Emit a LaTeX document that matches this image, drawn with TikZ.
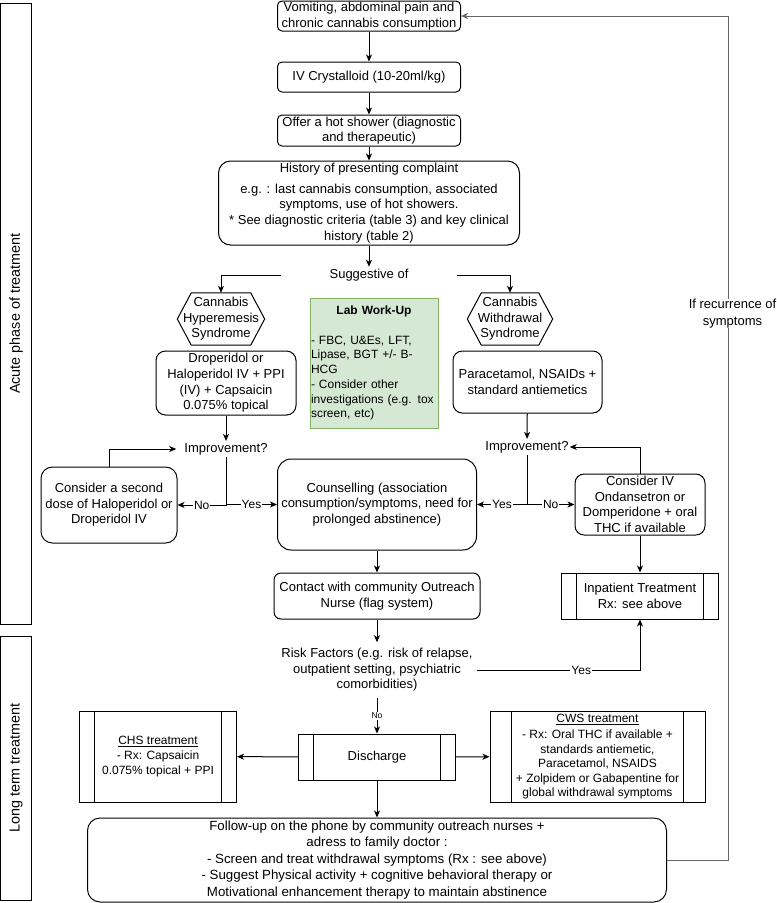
\documentclass[tikz,border=0pt]{standalone}
\usepackage{fontspec}
\setmainfont{Liberation Sans}
\usetikzlibrary{calc,arrows.meta}
\definecolor{labfill}{HTML}{D5E8D4}
\definecolor{labline}{HTML}{82B366}
\def\fsz#1#2{\fontsize{#1}{#2}\selectfont}
\tikzset{
	box/.style={draw, line width=1pt, rounded corners=#1, align=center, inner sep=1pt, font=\fsz{13}{15.6}},
	box/.default=5pt,
	proc/.style={draw, line width=1pt, align=center, inner sep=1pt},
	hexa/.style={align=center, inner sep=0pt, font=\fsz{13}{15.6}},
	phase/.style={draw, line width=1pt, rotate=90, inner sep=0pt, minimum height=31pt, font=\fsz{14.4}{17}},
	plain/.style={align=center, inner ysep=2pt, inner xsep=4pt, font=\fsz{13}{15.6}},
	lbl/.style={fill=white, inner sep=1pt, font=\fsz{12}{14.4}},
	arr/.style={line width=1pt, -{Stealth[length=7pt,width=6pt,inset=2pt]}},
	fb/.style={line width=1pt, draw=black!60, -{Stealth[length=7pt,width=6pt,inset=2pt]}},
}

\begin{document}
\begin{tikzpicture}[x=1pt, y=-1pt]
		%%%%% START %%%%%
		\useasboundingbox (0,0) rectangle (777,903);
		
		\node[phase, minimum width=621pt] (acute) at (16.1,313.5) {Acute phase of treatment};
		\node[phase, minimum width=264pt] (longterm) at (16.1,768) {Long term treatment};
		
		\node[box=4.5pt, minimum width=183pt, minimum height=30pt] (symp) at (369,16) {Vomiting, abdominal pain and\\chronic cannabis consumption};
		\node[box=4.5pt, minimum width=183pt, minimum height=30pt] (iv) at (369,77) {IV Crystalloid (10-20ml/kg)};
		\node[box=4.5pt, minimum width=183pt, minimum height=31pt] (shower) at (369,130.5) {Offer a hot shower (diagnostic\\and therapeutic)};
		\node[box=12pt, minimum width=301pt, minimum height=84pt] (hist) at (369,203) {History of presenting complaint\\[5pt]e.g. : last cannabis consumption, associated\\symptoms, use of hot showers.\\* See diagnostic criteria (table 3) and key clinical\\history (table 2)};
		\node[plain, minimum width=175pt] (sugg) at (369,275) {Suggestive of};
		
		\node[hexa, minimum width=87pt, minimum height=52pt] (chshex) at (221,319) {Cannabis\\Hyperemesis\\Syndrome};
		\node[hexa, minimum width=85pt, minimum height=52pt] (cwshex) at (510,319) {Cannabis\\Withdrawal\\Syndrome};
		\foreach \h in {chshex,cwshex}
			\draw[line width=1pt] (\h.west) -- ($(\h.north west)+(14,0)$) -- ($(\h.north east)+(-14,0)$) -- (\h.east) -- ($(\h.south east)+(-14,0)$) -- ($(\h.south west)+(14,0)$) -- cycle;
		
		\node[box=9.5pt, minimum width=140pt, minimum height=64pt] (drop) at (226,383) {Droperidol or\\Haloperidol IV + PPI\\(IV) + Capsaicin\\0.075\% topical};
		\node[draw=labline, fill=labfill, line width=1pt, text width=126pt, inner xsep=1pt, minimum height=130pt, align=left, font=\fsz{12}{14.7}] (lab) at (374,363) {\makebox[\linewidth]{\bfseries Lab Work-Up}\\[15pt]- FBC, U\&Es, LFT,\\Lipase, BGT +/- B-\\HCG\\- Consider other\\investigations (e.g. tox\\screen, etc)};
		\node[box=9.3pt, minimum width=149pt, minimum height=62pt] (paracet) at (527.5,382) {Paracetamol, NSAIDs +\\standard antiemetics};
		
		\node[plain, inner xsep=8pt] (imp1) at (226,449) {Improvement?};
		\node[plain, inner xsep=1pt] (imp2) at (527,447) {Improvement?};
		
		\node[box=11.4pt, minimum width=136pt, minimum height=76pt] (second) at (109,505) {Consider a second\\dose of Haloperidol or\\Droperidol IV};
		\node[box=13.6pt, minimum width=199pt, minimum height=91pt] (couns) at (377,504.5) {Counselling (association\\consumption/symptoms, need for\\prolonged abstinence)};
		\node[box=9.2pt, minimum width=130pt, minimum height=61pt] (coniv) at (640,504.5) {Consider IV\\Ondansetron or\\Domperidone + oral\\THC if available};
		
		\node[box=6.9pt, minimum width=206pt, minimum height=46pt] (contact) at (377,596) {Contact with community Outreach\\Nurse (flag system)};
		\node[proc, minimum width=157pt, minimum height=46pt, font=\fsz{13}{16.4}] (inpat) at (640,596) {Inpatient Treatment\\Rx: see above};
		
		\node[plain, inner ysep=6pt, inner xsep=4pt, font=\fsz{13}{15.5}] (risk) at (377,670) {Risk Factors (e.g. risk of relapse,\\outpatient setting, psychiatric\\comorbidities)};
		
		\node[proc, minimum width=157pt, minimum height=46pt, font=\fsz{13}{15.6}] (disch) at (377,757) {Discharge};
		\node[proc, minimum width=157pt, minimum height=91pt, font=\fsz{12}{15}] (chsbox) at (158,756.5) {\underline{CHS treatment}\\- Rx: Capsaicin\\0.075\% topical + PPI};
		\node[proc, minimum width=215pt, minimum height=91pt, font=\fsz{12}{14.4}] (cwsbox) at (597.5,756.5) {\underline{CWS treatment}\\[2pt]- Rx: Oral THC if available +\\standards antiemetic,\\Paracetamol, NSAIDS\\+ Zolpidem or Gabapentine for\\global withdrawal symptoms};
		\foreach \p in {inpat,disch,chsbox,cwsbox}
			\draw[line width=1pt] ($(\p.north west)!0.1!(\p.north east)$) -- ($(\p.south west)!0.1!(\p.south east)$)
				($(\p.north west)!0.9!(\p.north east)$) -- ($(\p.south west)!0.9!(\p.south east)$);
		
		\node[box=12.6pt, minimum width=579pt, minimum height=84pt, font=\fsz{13.3}{16.5}] (follow) at (377,860) {Follow-up on the phone by community outreach nurses +\\adress to family doctor :\\- Screen and treat withdrawal symptoms (Rx : see above)\\- Suggest Physical activity + cognitive behavioral therapy or\\Motivational enhancement therapy to maintain abstinence};
		
		%%%%% ARROWS %%%%%
		\draw[arr] (symp) -- (iv);
		\draw[arr] (iv) -- (shower);
		\draw[arr] (shower) -- (hist);
		\draw[arr] (hist) -- (sugg);
		\draw[arr] (sugg.west) -| (chshex.north);
		\draw[arr] (sugg.east) -| (cwshex.north);
		
		\draw[arr] (drop) -- (imp1);
		\draw[arr] (imp1.south) |- (second.east) node[lbl, pos=0.75] {No};
		\draw[arr] (imp1.south) |- (couns.west) node[lbl, pos=0.75] {Yes};
		\draw[arr] (second.north) |- (imp1.west);
		
		\draw[arr] (paracet) -- (imp2);
		\draw[arr] (imp2.south) |- (couns.east) node[lbl, pos=0.75] {Yes};
		\draw[arr] (imp2.south) |- (coniv.west) node[lbl, pos=0.75] {No};
		\draw[arr] (coniv.north) |- (imp2.east);
		\draw[arr] (coniv) -- (inpat);
		
		\draw[arr] (couns) -- (contact);
		\draw[arr] (contact) -- (risk);
		\draw[arr] (risk.east) -| (inpat.south) node[lbl, pos=0.32] {Yes};
		\draw[arr] (risk) -- (disch) node[midway, fill=white, inner sep=1pt, font=\fsz{8.5}{10}] {No};
		\draw[arr] (disch) -- (chsbox);
		\draw[arr] (disch) -- (cwsbox);
		\draw[arr] (disch) -- (follow);
		
		\coordinate (loopx) at (728,0);
		\draw[fb] (follow.east) -- (follow.east -| loopx) -- (symp.east -| loopx) -- (symp.east);
		\node[fill=white, inner sep=0pt, align=center, font=\fsz{13}{16.5}] (recur) at (732.5,313.5) {If recurrence of\\symptoms};
		
		%%%%% END %%%%%
\end{tikzpicture}
\end{document}
